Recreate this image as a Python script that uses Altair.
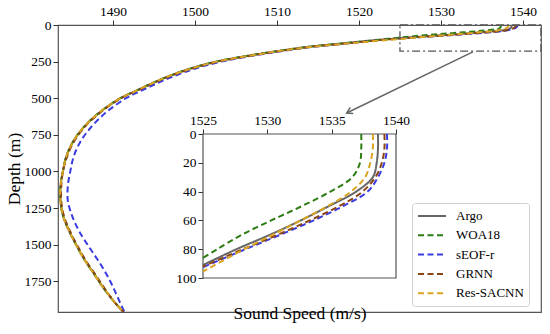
import altair as alt
import pandas as pd

SERIES = ["Argo", "WOA18", "sEOF-r", "GRNN", "Res-SACNN"]
COLORS = ["#666666", "#2e7d14", "#3b3be0", "#8b4513", "#daa520"]
DASHES = [[1, 0], [6, 3.5], [6, 3.5], [6, 3.5], [6, 3.5]]

DEEP = [125, 150, 175, 200, 250, 300, 350, 400, 450, 500, 600, 700, 800, 900,
        1000, 1100, 1200, 1300, 1400, 1500, 1600, 1700, 1800, 1900, 1960]

ARGO_TOP_DEPTH = [0, 10, 20, 30, 40, 50, 60, 70, 80, 91, 100]
ARGO_TOP_SPEED = [1538.6, 1538.6, 1538.5, 1538.2, 1536.9, 1534.8, 1532.6, 1530.2, 1527.6, 1525.0, 1522.9]
ARGO_DEEP = [1518.3, 1513.8, 1510.5, 1507.6, 1502.6, 1499.3, 1496.8, 1494.7, 1492.8, 1490.9, 1488.3,
             1486.4, 1485.1, 1484.3, 1483.9, 1483.6, 1483.6, 1483.9, 1484.6, 1485.5, 1486.5,
             1487.7, 1488.9, 1490.3, 1491.3]

WOA_TOP_DEPTH = [0, 10, 20, 30, 40, 50, 60, 70, 80, 86, 100]
WOA_TOP_SPEED = [1537.3, 1537.3, 1537.2, 1536.6, 1534.9, 1532.7, 1530.3, 1528.0, 1526.1, 1525.0, 1522.4]
WOA_DEEP = [1518.0, 1513.6, 1510.4, 1507.5, 1502.6, 1499.3, 1496.8, 1494.7, 1492.8, 1490.9, 1488.3,
            1486.4, 1485.1, 1484.3, 1483.9, 1483.6, 1483.6, 1483.9, 1484.6, 1485.5, 1486.5,
            1487.7, 1488.9, 1490.3, 1491.3]

SEOF_TOP_DEPTH = [0, 10, 20, 30, 40, 50, 60, 70, 80, 92.5, 100]
SEOF_TOP_SPEED = [1539.3, 1539.3, 1539.1, 1538.6, 1537.8, 1535.9, 1533.6, 1531.0, 1528.3, 1525.0, 1523.3]
SEOF_DEEP = [1518.8, 1514.3, 1511.0, 1508.1, 1503.2, 1499.9, 1497.4, 1495.3, 1493.4, 1491.6, 1489.1,
             1487.3, 1486.0, 1485.2, 1484.8, 1484.5, 1484.5, 1485.0, 1485.8, 1486.9, 1488.1,
             1489.2, 1490.1, 1490.9, 1491.4]

GRNN_TOP_DEPTH = [0, 10, 20, 30, 40, 50, 60, 70, 80, 92, 100]
GRNN_TOP_SPEED = [1539.1, 1539.1, 1538.9, 1538.4, 1537.4, 1535.6, 1533.3, 1530.8, 1528.1, 1525.0, 1523.1]
GRNN_DEEP = [1518.5, 1514.0, 1510.7, 1507.8, 1502.8, 1499.5, 1496.9, 1494.8, 1492.9, 1491.0, 1488.4,
             1486.5, 1485.2, 1484.4, 1483.9, 1483.7, 1483.7, 1484.0, 1484.7, 1485.6, 1486.6,
             1487.8, 1489.0, 1490.3, 1491.3]

RES_TOP_DEPTH = [0, 10, 20, 30, 40, 50, 60, 70, 80, 95.5, 100]
RES_TOP_SPEED = [1538.2, 1538.2, 1538.0, 1537.6, 1536.5, 1534.7, 1532.6, 1530.4, 1528.2, 1525.0, 1524.0]
RES_DEEP = [1518.9, 1514.1, 1510.6, 1507.7, 1502.7, 1499.4, 1496.8, 1494.7, 1492.8, 1490.9, 1488.3,
            1486.4, 1485.1, 1484.3, 1483.9, 1483.6, 1483.6, 1483.9, 1484.6, 1485.5, 1486.5,
            1487.7, 1488.9, 1490.3, 1491.3]

MAIN_X_DOMAIN = [1483.3, 1542.2]
MAIN_Y_DOMAIN = [0, 1960]
MAIN_X_TICKS = [1490, 1500, 1510, 1520, 1530, 1540]
MAIN_Y_TICKS = [0, 250, 500, 750, 1000, 1250, 1500, 1750]
INSET_X_TICKS = [1525, 1530, 1535, 1540]
INSET_Y_TICKS = [0, 20, 40, 60, 80, 100]

# zoom box and arrow (data units)
ZOOM_BOX = {"speed": [1525], "speed2": [1542.2], "depth": [0], "depth2": [178]}
ARROW = {"speed": [1533.9], "speed2": [1518.5], "depth": [184], "depth2": [601]}

FONT = "Liberation Serif"

rows = []
for name, td, ts, ds in [
    ("Argo", ARGO_TOP_DEPTH, ARGO_TOP_SPEED, ARGO_DEEP),
    ("WOA18", WOA_TOP_DEPTH, WOA_TOP_SPEED, WOA_DEEP),
    ("sEOF-r", SEOF_TOP_DEPTH, SEOF_TOP_SPEED, SEOF_DEEP),
    ("GRNN", GRNN_TOP_DEPTH, GRNN_TOP_SPEED, GRNN_DEEP),
    ("Res-SACNN", RES_TOP_DEPTH, RES_TOP_SPEED, RES_DEEP),
]:
    for d, s in zip(td + DEEP, ts + ds):
        rows.append({"series": name, "depth": d, "speed": s})
df = pd.DataFrame(rows)

W, H = 483, 287


def mx(field="speed"):
    return alt.X(f"{field}:Q",
                 scale=alt.Scale(domain=MAIN_X_DOMAIN, nice=False, zero=False),
                 axis=alt.Axis(orient="top", values=MAIN_X_TICKS, format="d",
                               title="Sound Speed (m/s)",
                               titleY=293, titleBaseline="alphabetic", grid=False, domain=False,
                               tickSize=5, labelPadding=2, labelFlush=False))


def my(field="depth"):
    return alt.Y(f"{field}:Q",
                 scale=alt.Scale(domain=MAIN_Y_DOMAIN, reverse=True, nice=False, zero=False),
                 axis=alt.Axis(values=MAIN_Y_TICKS, format="d", title="Depth (m)", grid=False,
                               domain=False, tickSize=5, labelPadding=2,
                               titleX=-39, titleBaseline="alphabetic", labelFlush=False))


legend = alt.Legend(title=None, orient="none", legendX=354, legendY=178,
                    symbolType="M-1,0L3,0", symbolStrokeWidth=2, symbolSize=196,
                    symbolFillColor="transparent",
                    labelFont=FONT, labelFontSize=13, labelColor="black", labelOffset=23,
                    fillColor="white", strokeColor="#d0d0d0", cornerRadius=3,
                    padding=5, rowPadding=4.3, symbolOpacity=1)

color_scale = alt.Scale(domain=SERIES, range=COLORS)
dash_scale = alt.Scale(domain=SERIES, range=DASHES)

main_lines = alt.Chart(df).mark_line(strokeWidth=2, interpolate="catmull-rom", clip=True).encode(
    x=mx(), y=my(),
    color=alt.Color("series:N", scale=color_scale, legend=legend, sort=SERIES),
    strokeDash=alt.StrokeDash("series:N", scale=dash_scale, legend=legend, sort=SERIES),
    order=alt.Order("depth:Q"),
)

zoom_box = alt.Chart(pd.DataFrame(ZOOM_BOX)).mark_rect(
    filled=False, stroke="#555555", strokeWidth=1.3, strokeDash=[8, 3, 2, 3]
).encode(x=mx("speed"), x2="speed2:Q", y=my("depth"), y2="depth2:Q")

arrow_df = pd.DataFrame(ARROW)
arrow_line = alt.Chart(arrow_df).mark_rule(color="#666666", strokeWidth=1.5).encode(
    x=mx("speed"), x2="speed2:Q", y=my("depth"), y2="depth2:Q")
arrow_head = alt.Chart(arrow_df).mark_point(
    shape="M-0.6,1L0,0L0.6,1", filled=False, size=130, angle=244,
    color="#666666", strokeWidth=1.5, opacity=1
).encode(x=mx("speed2"), y=my("depth2"))

main = alt.layer(main_lines, zoom_box, arrow_line, arrow_head)

ix_scale = alt.Scale(domain=[1525, 1540], range=[145, 338], nice=False, zero=False)
iy_scale = alt.Scale(domain=[0, 100], range=[109, 253], nice=False, zero=False)


def ix(field="speed"):
    return alt.X(f"{field}:Q", scale=ix_scale,
                 axis=alt.Axis(orient="top", offset=-109, values=INSET_X_TICKS, format="d",
                               title=None, grid=False, domain=False, tickSize=5,
                               labelPadding=2, labelFlush=False))


def iy(field="depth"):
    return alt.Y(f"{field}:Q", scale=iy_scale,
                 axis=alt.Axis(orient="left", offset=-145, values=INSET_Y_TICKS, format="d",
                               title=None, grid=False, domain=False, tickSize=5,
                               labelPadding=2, labelFlush=False))


INSET_FRAME = {"speed": [1525], "speed2": [1540], "depth": [0], "depth2": [100]}
inset_frame = alt.Chart(pd.DataFrame(INSET_FRAME)).mark_rect(
    fill="white", stroke="#555555", strokeWidth=1.2
).encode(x=ix("speed"), x2="speed2:Q", y=iy("depth"), y2="depth2:Q")

inset_lines = alt.Chart(df).transform_filter(
    "datum.speed >= 1525 && datum.depth <= 100"
).mark_line(strokeWidth=2, interpolate="catmull-rom").encode(
    x=ix(), y=iy(),
    color=alt.Color("series:N", scale=color_scale, legend=None, sort=SERIES),
    strokeDash=alt.StrokeDash("series:N", scale=dash_scale, legend=None, sort=SERIES),
    order=alt.Order("depth:Q"),
)

inset = alt.layer(inset_frame, inset_lines)

chart = alt.layer(main, inset).resolve_scale(
    x="independent", y="independent"
).properties(
    width=W, height=H,
    autosize=alt.AutoSizeParams(type="none"),
    padding={"left": 50, "top": 17, "right": 1, "bottom": 14},
).configure(font=FONT).configure_view(
    stroke="#555555", strokeWidth=1.2
).configure_axis(
    labelFont=FONT, titleFont=FONT, labelFontSize=13.5, titleFontSize=17.5,
    labelColor="black", titleColor="black", tickColor="#333333",
    titleFontWeight="normal",
)

chart.save("out.html", embed_options={"renderer": "svg", "actions": False})
